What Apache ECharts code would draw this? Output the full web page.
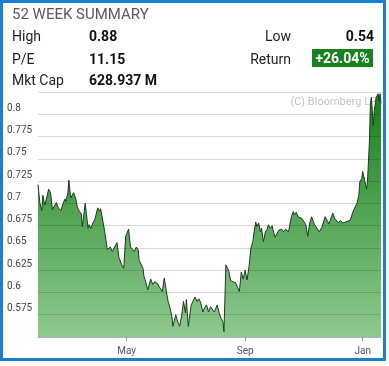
<!DOCTYPE html>
<html>
<head>
<meta charset="utf-8">
<script src="https://cdn.jsdelivr.net/npm/echarts@6/dist/echarts.min.js"></script>
<style>
  html, body { margin: 0; padding: 0; background: #fff; }
  body { width: 389px; height: 366px; position: relative; overflow: hidden; font-family: Roboto, "Noto Sans", Arial, sans-serif; }
  #chart { position: absolute; left: 0; top: 0; width: 389px; height: 366px; }
  #frame { position: absolute; left: 0; top: 0; width: 386px; height: 361px; box-sizing: border-box; border: 3px solid #1a7fd2; pointer-events: none; }
  .t { position: absolute; white-space: nowrap; font-size: 14px; line-height: 16px; color: #222; }
  .b { font-weight: bold; color: #111; }
  .r { text-align: right; }
  #title { font-size: 15px; line-height: 17px; color: #5a5a5a; left: 12px; top: 6px; }
  #ret { background: #17821e; color: #fff; font-weight: bold; left: 312px; width: 61px; height: 18px; line-height: 18px; text-align: center; }
</style>
</head>
<body>
<div id="chart"></div>
<div id="frame"></div>
<div id="hdr"></div>
<script>
// ---- Data ----
const dates = [
  '2024-01-30','2024-02-01','2024-02-03','2024-02-04','2024-02-06','2024-02-08','2024-02-10','2024-02-12','2024-02-14','2024-02-16',
  '2024-02-18','2024-02-20','2024-02-23','2024-02-25','2024-02-27','2024-02-28','2024-03-01','2024-03-02','2024-03-04','2024-03-05',
  '2024-03-07','2024-03-09','2024-03-11','2024-03-13','2024-03-15','2024-03-16','2024-03-18','2024-03-19','2024-03-21','2024-03-22',
  '2024-03-23','2024-03-25','2024-03-27','2024-03-29','2024-04-01','2024-04-03','2024-04-04','2024-04-08','2024-04-11','2024-04-14',
  '2024-04-16','2024-04-18','2024-04-21','2024-04-23','2024-04-26','2024-04-28','2024-04-30','2024-05-03','2024-05-05','2024-05-07',
  '2024-05-09','2024-05-11','2024-05-13','2024-05-14','2024-05-16','2024-05-18','2024-05-19','2024-05-21','2024-05-23','2024-05-26',
  '2024-05-28','2024-05-30','2024-06-02','2024-06-04','2024-06-07','2024-06-09','2024-06-11','2024-06-13','2024-06-15','2024-06-17',
  '2024-06-18','2024-06-21','2024-06-23','2024-06-25','2024-06-27','2024-06-29','2024-07-01','2024-07-02','2024-07-04','2024-07-07',
  '2024-07-09','2024-07-11','2024-07-13','2024-07-15','2024-07-17','2024-07-19','2024-07-21','2024-07-23','2024-07-25','2024-07-27',
  '2024-07-29','2024-07-31','2024-08-03','2024-08-05','2024-08-07','2024-08-09','2024-08-10','2024-08-12','2024-08-15','2024-08-17',
  '2024-08-19','2024-08-22','2024-08-24','2024-08-26','2024-08-28','2024-08-30','2024-09-01','2024-09-03','2024-09-05','2024-09-07',
  '2024-09-09','2024-09-10','2024-09-12','2024-09-13','2024-09-15','2024-09-17','2024-09-18','2024-09-20','2024-09-22','2024-09-24',
  '2024-09-25','2024-09-27','2024-09-29','2024-09-30','2024-10-02','2024-10-04','2024-10-06','2024-10-07','2024-10-09','2024-10-11',
  '2024-10-13','2024-10-16','2024-10-18','2024-10-19','2024-10-21','2024-10-22','2024-10-24','2024-10-26','2024-10-28','2024-10-30',
  '2024-11-01','2024-11-03','2024-11-05','2024-11-07','2024-11-09','2024-11-12','2024-11-14','2024-11-17','2024-11-20','2024-11-21',
  '2024-11-23','2024-11-25','2024-11-27','2024-11-28','2024-12-01','2024-12-03','2024-12-05','2024-12-07','2024-12-09','2024-12-11',
  '2024-12-14','2024-12-16','2024-12-19','2024-12-22','2024-12-24','2024-12-26','2024-12-28','2024-12-29','2024-12-31','2025-01-01',
  '2025-01-03','2025-01-05','2025-01-06','2025-01-08','2025-01-09','2025-01-10','2025-01-12','2025-01-13','2025-01-15','2025-01-17',
  '2025-01-18','2025-01-19','2025-01-20'
];
const prices = [
  0.721,0.700,0.692,0.709,0.698,0.706,0.716,0.712,0.693,0.697,
  0.701,0.695,0.692,0.700,0.705,0.702,0.712,0.726,0.706,0.708,
  0.712,0.706,0.695,0.691,0.688,0.674,0.691,0.700,0.681,0.672,
  0.676,0.672,0.678,0.682,0.695,0.691,0.694,0.670,0.648,0.651,
  0.646,0.644,0.656,0.639,0.631,0.627,0.663,0.671,0.651,0.650,
  0.646,0.651,0.648,0.636,0.635,0.627,0.618,0.611,0.603,0.615,
  0.609,0.612,0.610,0.606,0.601,0.616,0.603,0.590,0.583,0.573,
  0.562,0.575,0.567,0.562,0.573,0.590,0.577,0.592,0.562,0.586,
  0.588,0.595,0.590,0.593,0.588,0.578,0.583,0.586,0.578,0.584,
  0.586,0.578,0.586,0.577,0.571,0.567,0.556,0.631,0.624,0.613,
  0.612,0.611,0.606,0.601,0.623,0.615,0.625,0.614,0.629,0.650,
  0.657,0.666,0.679,0.674,0.678,0.668,0.672,0.657,0.668,0.671,
  0.676,0.672,0.675,0.670,0.662,0.663,0.670,0.668,0.671,0.668,
  0.671,0.668,0.667,0.685,0.691,0.687,0.690,0.685,0.687,0.683,
  0.685,0.676,0.663,0.678,0.685,0.676,0.674,0.668,0.674,0.678,
  0.685,0.681,0.677,0.679,0.689,0.683,0.681,0.678,0.681,0.678,
  0.679,0.678,0.681,0.691,0.693,0.700,0.709,0.724,0.728,0.736,
  0.726,0.716,0.725,0.770,0.812,0.819,0.787,0.804,0.819,0.823,
  0.815,0.823,0.812
];
const xTickDates = ['2024-05-01', '2024-09-01', '2025-01-01'];
const xTickLabels = ['May', 'Sep', 'Jan'];
const yMin = 0.55, yMax = 0.825, yStep = 0.025;

const summaryTitle = '52 WEEK SUMMARY';
const statLabelsLeft = ['High', 'P/E', 'Mkt Cap'];
const statValuesLeft = ['0.88', '11.15', '628.937 M'];
const statLabelsRight = ['Low', 'Return'];
const statValuesRight = ['0.54', '+26.04%'];
const sourceText = '(C) Bloomberg LP';

// ---- Header (real text) ----
const hdr = document.getElementById('hdr');
function addDiv(cls, text, style) {
  const d = document.createElement('div');
  d.className = cls; d.textContent = text;
  Object.assign(d.style, style);
  hdr.appendChild(d);
  return d;
}
const t = addDiv('t', summaryTitle, {}); t.id = 'title';
const rowTops = [28, 50.5, 72.3];
statLabelsLeft.forEach((s, i) => addDiv('t', s, { left: '12px', top: rowTops[i] + 'px' }));
statValuesLeft.forEach((s, i) => addDiv('t b', s, { left: '89px', top: rowTops[i] + 'px' }));
statLabelsRight.forEach((s, i) => addDiv('t r', s, { right: (389 - 291) + 'px', top: rowTops[i] + 'px' }));
addDiv('t b r', statValuesRight[0], { right: (389 - 374) + 'px', top: rowTops[0] + 'px' });
const rb = addDiv('t', statValuesRight[1], { top: '49px' }); rb.id = 'ret';

// ---- Chart ----
const toTs = s => { const p = s.split('-').map(Number); return Date.UTC(p[0], p[1] - 1, p[2]); };
const seriesData = dates.map((d, i) => [toTs(d), prices[i]]);
const tickTs = xTickDates.map(toTs);

const chart = echarts.init(document.getElementById('chart'), null, { renderer: 'canvas' });
chart.setOption({
  animation: false,
  grid: { left: 38, right: 8, top: 92, bottom: 29 },
  xAxis: {
    type: 'value',
    min: toTs(dates[0]),
    max: toTs(dates[dates.length - 1]),
    axisLine: { show: true, lineStyle: { color: '#cfcfcf', width: 1 } },
    axisTick: { show: true, length: 4, lineStyle: { color: '#999' }, customValues: tickTs },
    axisLabel: {
      show: true, customValues: tickTs, color: '#555', fontSize: 10, margin: 9,
      fontFamily: 'Roboto',
      formatter: v => { const i = tickTs.findIndex(x => Math.abs(x - v) < 43200000); return i >= 0 ? xTickLabels[i] : ''; }
    },
    splitLine: { show: false }
  },
  yAxis: {
    type: 'value', min: yMin, max: yMax, interval: yStep, z: 5,
    axisLine: { show: false }, axisTick: { show: false },
    axisLabel: {
      color: '#444', fontSize: 10, fontFamily: 'Roboto', align: 'left', margin: 31,
      verticalAlign: 'bottom', padding: [0, 0, 1, 0],
      showMinLabel: false, showMaxLabel: false,
      formatter: v => { const r = Math.round(v * 1000) / 1000; return (r <= yMin + 1e-9 || r >= yMax - 1e-9) ? '' : String(r); }
    },
    splitLine: { show: true, lineStyle: { color: 'rgba(0,0,0,0.15)', width: 1 } }
  },
  graphic: [{
    type: 'text', right: 12, top: 97, z: 0,
    style: { text: sourceText, fill: '#c4c4c4', fontSize: 11, fontFamily: 'Roboto' }
  }],
  series: [{
    type: 'line', data: seriesData, showSymbol: false, symbol: 'none', z: 2,
    lineStyle: { color: '#1e3a1e', width: 1 },
    areaStyle: {
      opacity: 1,
      color: new echarts.graphic.LinearGradient(0, 0, 0, 1, [
        { offset: 0, color: '#17801c' },
        { offset: 1, color: '#8fca8f' }
      ])
    }
  }]
});
</script>
</body>
</html>
